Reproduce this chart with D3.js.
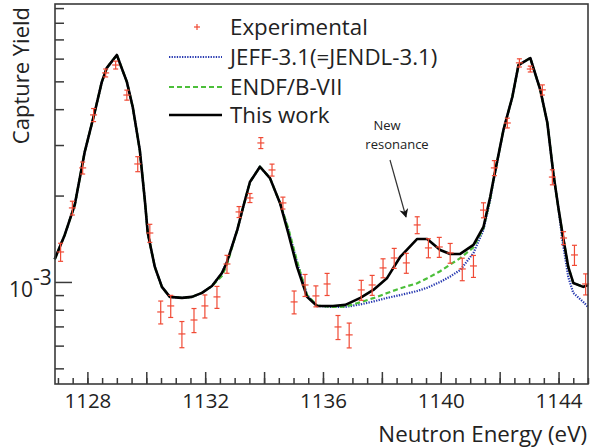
<!DOCTYPE html>
<html>
<head>
<meta charset="utf-8">
<script src="https://cdn.jsdelivr.net/npm/d3@7"></script>
<style>
  body { margin: 0; background: #fff; }
  text { font-family: "Open Sans", "Liberation Sans", sans-serif; fill: #222; }
</style>
</head>
<body>
<script>
// DATA (yields in units of 10^-3)
// ---------------------------------------------------------------------------------------------
const energy = [1126.89, 1127.23, 1127.57, 1127.91, 1128.25, 1128.49, 1128.66, 1129.00, 1129.34, 1129.54,
  1129.78, 1129.95, 1130.05, 1130.29, 1130.53, 1130.80, 1131.21, 1131.55, 1131.89, 1132.23,
  1132.57, 1132.74, 1133.09, 1133.29, 1133.52, 1133.86, 1134.20, 1134.54, 1134.82, 1135.12,
  1135.46, 1135.80, 1136.34, 1136.76, 1137.27, 1137.71, 1138.18, 1138.62, 1139.20, 1139.54,
  1139.98, 1140.32, 1140.66, 1141.11, 1141.45, 1141.68, 1141.79, 1142.13, 1142.43, 1142.64,
  1143.04, 1143.38, 1143.62, 1143.82, 1143.99, 1144.13, 1144.33, 1144.50, 1144.84, 1145.00];

const thisWork = [1.20, 1.458, 1.855, 2.84, 3.91, 4.98, 5.57, 6.18, 4.98, 4.07,
  2.88, 1.93, 1.48, 1.128, 0.961, 0.887, 0.880, 0.887, 0.916, 0.968,
  1.075, 1.174, 1.518, 1.825, 2.23, 2.52, 2.30, 1.885, 1.481, 1.128,
  0.887, 0.825, 0.825, 0.832, 0.880, 0.938, 1.033, 1.222, 1.412, 1.412,
  1.293, 1.252, 1.252, 1.346, 1.555, 1.98, 2.27, 3.39, 4.41, 5.70,
  6.03, 4.67, 3.58, 2.40, 1.825, 1.481, 1.128, 0.992, 0.961, 0.976];

const jeff = [1.20, 1.458, 1.855, 2.84, 3.91, 4.98, 5.57, 6.18, 4.98, 4.07,
  2.88, 1.93, 1.48, 1.128, 0.961, 0.887, 0.880, 0.887, 0.916, 0.968,
  1.075, 1.174, 1.518, 1.825, 2.23, 2.52, 2.30, 1.885, 1.53, 1.17,
  0.90, 0.825, 0.818, 0.818, 0.835, 0.855, 0.880, 0.900, 0.930, 0.955,
  1.0, 1.045, 1.10, 1.262, 1.518, 1.93, 2.25, 3.39, 4.41, 5.70,
  6.03, 4.67, 3.58, 2.40, 1.825, 1.40, 1.04, 0.916, 0.852, 0.818];

const endf = [1.20, 1.458, 1.855, 2.84, 3.91, 4.98, 5.57, 6.18, 4.98, 4.07,
  2.88, 1.93, 1.48, 1.128, 0.961, 0.887, 0.880, 0.887, 0.916, 0.968,
  1.05, 1.15, 1.518, 1.825, 2.23, 2.52, 2.30, 1.885, 1.54, 1.18,
  0.90, 0.828, 0.818, 0.820, 0.850, 0.878, 0.915, 0.950, 0.990, 1.03,
  1.09, 1.15, 1.21, 1.32, 1.54, 1.95, 2.27, 3.39, 4.41, 5.70,
  6.03, 4.67, 3.58, 2.40, 1.825, 1.481, 1.128, 0.992, 0.961, 0.976];

const expEnergy = [1127.09, 1127.49, 1127.84, 1128.21, 1128.62, 1128.96, 1129.34, 1129.71, 1130.12, 1130.49,
  1130.83, 1131.21, 1131.62, 1131.99, 1132.40, 1132.74, 1133.15, 1133.52, 1133.89, 1134.27,
  1134.64, 1135.02, 1135.39, 1135.76, 1136.14, 1136.51, 1136.89, 1137.30, 1137.67, 1138.04,
  1138.42, 1138.83, 1139.20, 1139.58, 1139.95, 1140.32, 1140.73, 1141.11, 1141.45, 1141.82,
  1142.26, 1142.67, 1143.04, 1143.45, 1143.79, 1144.17, 1144.54, 1144.92];
const expYield = [1.272, 1.811, 2.497, 3.82, 5.35, 5.70, 4.48, 2.577, 1.481, 0.786,
  0.825, 0.659, 0.737, 0.825, 0.887, 1.155, 1.754, 1.962, 3.05, 2.456,
  1.885, 0.852, 0.976, 0.894, 0.984, 0.697, 0.654, 0.938, 0.976, 1.119,
  1.212, 1.165, 1.58, 1.314, 1.324, 1.262, 1.11, 1.137, 1.78, 2.497,
  3.58, 5.80, 5.52, 4.67, 2.32, 1.423, 1.242, 0.984];
const expErr = [0.092, 0.10, 0.12, 0.20, 0.17, 0.18, 0.18, 0.155, 0.107, 0.072,
  0.073, 0.069, 0.071, 0.076, 0.078, 0.083, 0.077, 0.071, 0.134, 0.118,
  0.09, 0.078, 0.086, 0.075, 0.087, 0.067, 0.065, 0.075, 0.078, 0.085,
  0.097, 0.093, 0.107, 0.10, 0.106, 0.10, 0.10, 0.10, 0.107, 0.15,
  0.14, 0.19, 0.13, 0.19, 0.14, 0.074, 0.10, 0.083];

const xLabelTicks = [1128, 1132, 1136, 1140, 1144];
const xMajorTicks = [1128, 1130, 1132, 1134, 1136, 1138, 1140, 1142, 1144];
const yMinorTicks = [0.5, 0.6, 0.7, 0.8, 0.9, 2, 3, 4, 5, 6, 7, 8, 9];
const yMajorTicks = [1];

const legendNames = ["Experimental", "JEFF-3.1(=JENDL-3.1)", "ENDF/B-VII", "This work"];

// SCALES
// ---------------------------------------------------------------------------------------------
const frame = { left: 55, right: 588, top: 4, bottom: 384 };
const x = d3.scaleLinear([1126.9, 1145], [frame.left, frame.right]);
const y = d3.scaleLog([0.441, 9.30], [frame.bottom, frame.top]);

const svg = d3.select("body").append("svg")
  .attr("width", 593)
  .attr("height", 448);

// CURVES
// ---------------------------------------------------------------------------------------------
const line = d3.line()
  .x(d => x(d[0]))
  .y(d => y(d[1]));

const plot = svg.append("g");

plot.append("path")
  .datum(energy.map((e, i) => [e, jeff[i]]))
  .attr("d", line)
  .attr("fill", "none")
  .attr("stroke", "#2638b0")
  .attr("stroke-width", 2.2)
  .attr("stroke-dasharray", "1.3,1.3");

plot.append("path")
  .datum(energy.map((e, i) => [e, endf[i]]))
  .attr("d", line)
  .attr("fill", "none")
  .attr("stroke", "#4cbf3a")
  .attr("stroke-width", 2.2)
  .attr("stroke-dasharray", "5,3");

plot.append("path")
  .datum(energy.map((e, i) => [e, thisWork[i]]))
  .attr("d", line)
  .attr("fill", "none")
  .attr("stroke", "#000")
  .attr("stroke-width", 2.6)
  .attr("stroke-linejoin", "round");

// EXPERIMENTAL POINTS WITH ERROR BARS
// ---------------------------------------------------------------------------------------------
const red = "#f04a35";
const pts = plot.selectAll(".pt")
  .data(expEnergy.map((e, i) => ({ e: e, v: expYield[i], err: expErr[i] })))
  .enter().append("g")
  .attr("class", "pt")
  .attr("stroke", red)
  .attr("stroke-width", 1.2);

pts.append("line")
  .attr("x1", d => x(d.e)).attr("x2", d => x(d.e))
  .attr("y1", d => y(d.v - d.err)).attr("y2", d => y(d.v + d.err));
pts.append("line")
  .attr("x1", d => x(d.e) - 3.5).attr("x2", d => x(d.e) + 3.5)
  .attr("y1", d => y(d.v)).attr("y2", d => y(d.v));
pts.append("line")
  .attr("x1", d => x(d.e) - 2.5).attr("x2", d => x(d.e) + 2.5)
  .attr("y1", d => y(d.v - d.err)).attr("y2", d => y(d.v - d.err));
pts.append("line")
  .attr("x1", d => x(d.e) - 2.5).attr("x2", d => x(d.e) + 2.5)
  .attr("y1", d => y(d.v + d.err)).attr("y2", d => y(d.v + d.err));

// FRAME AND AXES
// ---------------------------------------------------------------------------------------------
svg.append("rect")
  .attr("x", frame.left)
  .attr("y", frame.top)
  .attr("width", frame.right - frame.left)
  .attr("height", frame.bottom - frame.top)
  .attr("fill", "none")
  .attr("stroke", "#3a3a3a")
  .attr("stroke-width", 1.6);

function styleAxis(g) {
  g.select(".domain").remove();
  g.selectAll(".tick line").attr("stroke", "#3a3a3a").attr("stroke-width", 1.5);
}

svg.append("g")
  .attr("transform", `translate(0,${frame.bottom})`)
  .call(d3.axisBottom(x).tickValues(d3.range(1127, 1145.01, 0.5)).tickSize(-6).tickFormat(""))
  .call(styleAxis);

svg.append("g")
  .attr("transform", `translate(0,${frame.bottom})`)
  .call(d3.axisBottom(x).tickValues(xMajorTicks).tickSize(-12).tickFormat(""))
  .call(styleAxis);

svg.append("g")
  .attr("transform", `translate(0,${frame.bottom})`)
  .call(d3.axisBottom(x).tickValues(xLabelTicks).tickSize(0).tickPadding(9).tickFormat(d3.format("d")))
  .call(g => g.select(".domain").remove())
  .call(g => g.selectAll("text").attr("font-size", 20.5).attr("font-family", null).attr("fill", "#222"));

svg.append("g")
  .attr("transform", `translate(${frame.left},0)`)
  .call(d3.axisLeft(y).tickValues(yMinorTicks).tickSize(-9).tickFormat(""))
  .call(styleAxis);

svg.append("g")
  .attr("transform", `translate(${frame.left},0)`)
  .call(d3.axisLeft(y).tickValues(yMajorTicks).tickSize(-17).tickFormat(""))
  .call(styleAxis);

const pow = svg.append("text")
  .attr("x", 9)
  .attr("y", y(1) + 15)
  .attr("font-size", 21);
pow.append("tspan").text("10");
pow.append("tspan").attr("dy", -12).text("-3");

// AXIS TITLES
// ---------------------------------------------------------------------------------------------
svg.append("text")
  .attr("text-anchor", "end")
  .attr("x", 587)
  .attr("y", 442)
  .attr("font-size", 22.3)
  .text("Neutron Energy (eV)");

svg.append("text")
  .attr("text-anchor", "end")
  .attr("transform", "translate(29,7) rotate(-90)")
  .attr("font-size", 22)
  .text("Capture Yield");

// LEGEND
// ---------------------------------------------------------------------------------------------
const legendY = [27, 57, 87, 115];
svg.append("g").attr("stroke", red).attr("stroke-width", 1.2)
  .call(g => {
    g.append("line").attr("x1", 194).attr("x2", 200).attr("y1", legendY[0]).attr("y2", legendY[0]);
    g.append("line").attr("x1", 197).attr("x2", 197).attr("y1", legendY[0] - 3).attr("y2", legendY[0] + 3);
  });

const legendStyles = [null,
  { stroke: "#2638b0", dash: "1.3,1.3", w: 2.2 },
  { stroke: "#4cbf3a", dash: "5,3", w: 2.2 },
  { stroke: "#000", dash: null, w: 2.6 }];

legendStyles.forEach((s, i) => {
  if (!s) return;
  svg.append("line")
    .attr("x1", 169).attr("x2", 222)
    .attr("y1", legendY[i]).attr("y2", legendY[i])
    .attr("stroke", s.stroke)
    .attr("stroke-width", s.w)
    .attr("stroke-dasharray", s.dash);
});

svg.selectAll(".legtext")
  .data(legendNames)
  .enter().append("text")
  .attr("x", 230)
  .attr("y", (d, i) => legendY[i] + 8)
  .attr("font-size", 22.3)
  .text(d => d);

// ANNOTATION
// ---------------------------------------------------------------------------------------------
svg.append("defs").append("marker")
  .attr("id", "arrow")
  .attr("viewBox", "0 0 10 10")
  .attr("refX", 9).attr("refY", 5)
  .attr("markerWidth", 9).attr("markerHeight", 9)
  .attr("markerUnits", "userSpaceOnUse")
  .attr("orient", "auto")
  .append("path")
  .attr("d", "M0,0 L10,5 L0,10 L3,5 Z")
  .attr("fill", "#111");

svg.append("line")
  .attr("x1", 390).attr("y1", 160)
  .attr("x2", 406).attr("y2", 217)
  .attr("stroke", "#333")
  .attr("stroke-width", 1.2)
  .attr("marker-end", "url(#arrow)");

svg.append("text")
  .attr("x", 387).attr("y", 130)
  .attr("text-anchor", "middle")
  .attr("font-size", 13)
  .text("New");

svg.append("text")
  .attr("x", 397).attr("y", 149)
  .attr("text-anchor", "middle")
  .attr("font-size", 13)
  .text("resonance");
</script>
</body>
</html>
